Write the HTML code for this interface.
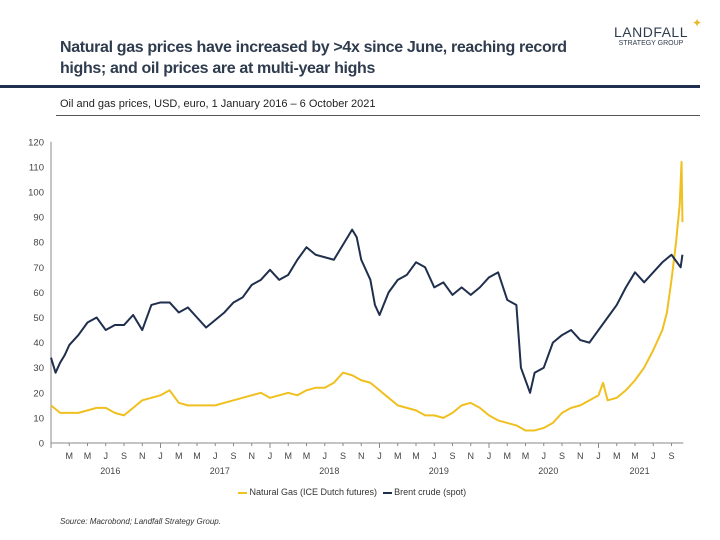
<!DOCTYPE html>
<html><head><meta charset="utf-8"><style>
body{margin:0;width:720px;height:540px;background:#fff;font-family:"Liberation Sans",sans-serif;overflow:hidden;position:relative}
.t{position:absolute}
</style></head><body>
<div class="t" style="left:60px;top:37px;font-size:16px;font-weight:bold;color:#2f3c4e;line-height:21px;width:580px;letter-spacing:-0.35px;white-space:nowrap">Natural gas prices have increased by &gt;4x since June, reaching record<br>highs; and oil prices are at multi-year highs</div>
<div class="t" style="left:606px;top:24px;color:#2f3c4e;text-align:center;width:90px"><div style="font-size:14px;letter-spacing:0.5px">LANDFALL</div><div style="font-size:7px">STRATEGY GROUP</div><div style="position:absolute;left:86px;top:-8px;color:#e8b92a;font-size:12px">✦</div></div>
<div class="t" style="left:0;top:85px;width:700px;height:3px;background:#1f2f4d"></div>
<div class="t" style="left:60px;top:98px;font-size:11px;color:#222">Oil and gas prices, USD, euro, 1 January 2016 – 6 October 2021</div>
<div class="t" style="left:56px;top:115px;width:644px;height:1px;background:#555"></div>
<svg class="t" style="left:0;top:0" width="720" height="540" id="svg"></svg>
<div class="t" style="left:238px;top:487px;font-size:9px;color:#333;white-space:nowrap">
<span><span style="display:inline-block;width:9px;height:2px;background:#f0c020;vertical-align:middle"></span> Natural Gas (ICE Dutch futures)</span>
<span style="margin-left:3px"><span style="display:inline-block;width:9px;height:2px;background:#1f2f4d;vertical-align:middle"></span> Brent crude (spot)</span></div>
<div class="t" style="left:60px;top:517px;font-size:8px;font-style:italic;color:#333">Source: Macrobond;  Landfall Strategy Group.</div>
<script>
const yTicks=[0,10,20,30,40,50,60,70,80,90,100,110,120];
const years=["2016","2017","2018","2019","2020","2021"];
const monthLabels=["J","M","M","J","S","N"];
// time in months since Jan 2016
const brentT=[0,0.5,1,1.5,2,3,4,5,6,7,8,9,10,11,12,13,14,15,16,17,18,19,20,21,22,23,24,25,26,27,28,29,30,31,32,33,33.5,34,35,35.5,36,37,38,39,40,41,42,43,44,45,46,47,48,49,50,51,51.5,52,52.5,53,54,55,56,57,58,59,60,61,62,63,64,65,66,67,68,69,69.2];
const brentV=[34,28,32,35,39,43,48,50,45,47,47,51,45,55,56,56,52,54,50,46,49,52,56,58,63,65,69,65,67,73,78,75,74,73,79,85,82,73,65,55,51,60,65,67,72,70,62,64,59,62,59,62,66,68,57,55,30,25,20,28,30,40,43,45,41,40,45,50,55,62,68,64,68,72,75,70,75,78,82];
const gasT=[0,1,2,3,4,5,6,7,8,9,10,11,12,13,14,15,16,17,18,19,20,21,22,23,24,25,26,27,28,29,30,31,32,33,34,35,36,37,38,39,40,41,42,43,44,45,46,47,48,49,50,51,52,53,54,55,56,57,58,59,60,60.5,61,62,63,64,65,66,67,67.5,68,68.5,68.9,69.1,69.2];
const gasV=[15,12,12,12,13,14,14,12,11,14,17,18,19,21,16,15,15,15,15,16,17,18,19,20,18,19,20,19,21,22,22,24,28,27,25,24,21,18,15,14,13,11,11,10,12,15,16,14,11,9,8,7,5,5,6,8,12,14,15,17,19,24,17,18,21,25,30,37,45,52,65,80,95,112,88];
const svg=document.getElementById('svg');const NS='http://www.w3.org/2000/svg';
const x0=51,pxM=109.5/12,y0=443,pxV=25.1/10;
const X=t=>x0+t*pxM, Y=v=>y0-v*pxV;
function el(n,a){const e=document.createElementNS(NS,n);for(const k in a)e.setAttribute(k,a[k]);svg.appendChild(e);return e;}
yTicks.forEach(v=>{const t=el('text',{x:44,y:Y(v)+3.5,'text-anchor':'end','font-size':'9.5','fill':'#444'});t.textContent=v;

});
const yax=el('line',{x1:x0,y1:Y(0),x2:x0,y2:Y(120),stroke:'#888'});


const xax=el('line',{x1:x0,y1:y0,x2:X(69.3),y2:y0,stroke:'#888'});


for(let m=0;m<70;m+=2){const yr=m%12==0;
el('line',{x1:X(m),y1:y0,x2:X(m),y2:y0+(yr?5:3),stroke:'#888'});
if(m>0){const t=el('text',{x:X(m),y:y0+16,'text-anchor':'middle','font-size':'9','fill':'#444'});t.textContent=monthLabels[(m%12)/2];

}}
years.forEach((y,i)=>{const mid=i==5?64.5:i*12+6.5;const t=el('text',{x:X(mid),y:y0+31,'text-anchor':'middle','font-size':'9','fill':'#444'});t.textContent=y;

});
function line(T,V,c,n){const p=el('polyline',{points:T.map((t,i)=>X(t)+','+Y(V[i])).join(' '),fill:'none',stroke:c,'stroke-width':2,'stroke-linejoin':'round'});

}
line(gasT,gasV,'#f0c020','gas-line');
line(brentT,brentV,'#1f2f4d','brent-line');
</script>
</body></html>
